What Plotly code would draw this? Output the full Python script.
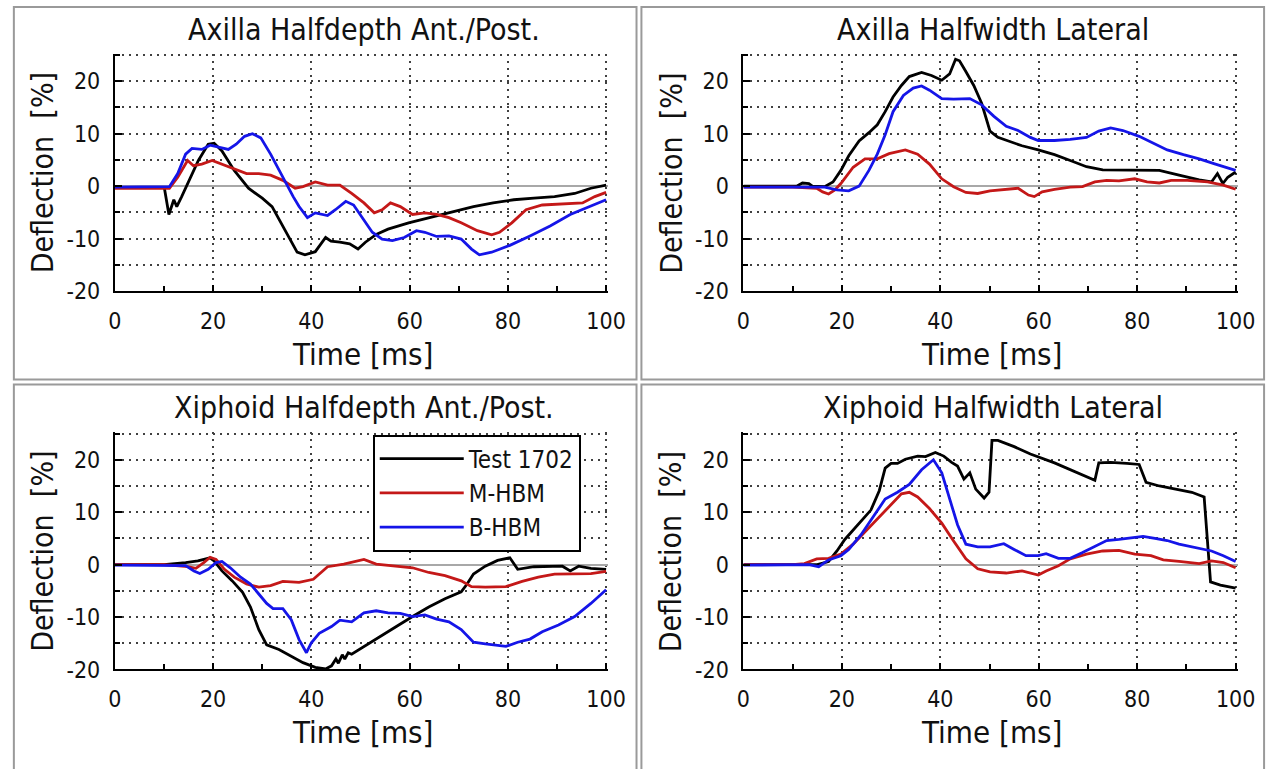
import plotly.graph_objects as go

W, H = 1286, 769

# ---------------- data (time in ms, deflection in %) ----------------
tl_black_t = [0, 5, 10, 10.1, 11, 12, 12.6, 13.6, 14.8, 17, 19, 20.2, 21.8, 24.3, 27.2, 30, 32, 34.2, 37.1, 38.7, 40.8, 42.9, 44, 45.8, 47.8, 49.5, 51, 53.2, 55.6, 59.8, 63.9, 68, 73, 77, 81.2, 85.3, 89.5, 93.6, 96.9, 100]
tl_black_v = [-0.3, -0.3, -0.3, -0.5, -5.4, -2.6, -3.9, -2, 0.5, 4.9, 8.0, 8.2, 6.7, 3, -0.4, -2.3, -3.9, -7.6, -12.6, -13.1, -12.5, -9.8, -10.5, -10.7, -11, -12, -10.7, -9.2, -8.2, -7, -6, -5.1, -3.9, -3.2, -2.6, -2.3, -2, -1.4, -0.4, 0.2]
tl_red_t = [0, 5, 11.1, 12.8, 14.8, 16, 17.7, 19.8, 21.8, 24.3, 26.8, 29.3, 31.7, 34.2, 36.7, 38.3, 40.8, 43.3, 45.8, 48.2, 50.7, 52.8, 54.4, 56.1, 58.1, 60.6, 63.1, 65.5, 68, 70.5, 73.8, 76.7, 78.3, 80.8, 83.7, 87, 91.9, 95.2, 97.7, 100]
tl_red_v = [-0.4, -0.4, -0.4, 1.7, 4.9, 3.9, 4.2, 4.9, 4.2, 3.3, 2.4, 2.4, 2.1, 1.1, -0.4, -0.1, 0.8, 0.2, 0.2, -1.4, -3.2, -5.1, -4.5, -3.2, -3.9, -5.4, -5.1, -5.4, -6, -7, -8.5, -9.3, -8.8, -7, -4.5, -3.6, -3.4, -3.2, -2, -1.2]
tl_blue_t = [0, 5, 11.1, 12.8, 14.4, 15.7, 17.7, 19.4, 21.4, 23.1, 24.7, 26.4, 28, 29.7, 31.7, 33.4, 35, 36.3, 37.5, 39.2, 40.8, 43.3, 44.9, 47, 48.6, 50.3, 52.4, 54.4, 56.5, 58.9, 61.4, 63.1, 65.5, 68, 70.5, 72.6, 74.2, 76.7, 80.4, 84.5, 88.6, 92.7, 96, 100]
tl_blue_v = [-0.2, -0.2, -0.1, 2.4, 6.1, 7.2, 7.0, 7.8, 7.4, 7.0, 8.0, 9.5, 10, 9.2, 6.1, 3, 0.2, -2, -3.9, -6, -5.1, -5.6, -4.5, -2.9, -3.6, -6, -8.8, -10.1, -10.4, -9.8, -8.5, -8.8, -9.6, -9.5, -10.1, -12, -13.1, -12.6, -11.3, -9.5, -7.6, -5.4, -4.2, -2.6]

tr_black_t = [0, 5, 10.8, 12, 13.3, 14, 16.5, 18.2, 19.8, 21.4, 23.5, 25.5, 27.2, 28.8, 30.4, 32.1, 33.7, 36.2, 38.2, 40.3, 41.9, 43.1, 43.9, 45.1, 46.8, 48.4, 50.1, 51.7, 54.2, 56.6, 59.9, 63.2, 66.4, 69.7, 73, 76.3, 80.4, 84.5, 88.5, 92.6, 95.1, 96.3, 97.4, 98.4, 100]
tr_black_v = [0, 0, 0, 0.6, 0.5, 0, -0.1, 0.8, 3, 5.8, 8.6, 10.2, 11.7, 14.2, 17, 19.2, 20.9, 21.7, 21.1, 20.2, 21.4, 24.2, 23.9, 22, 19.2, 15.8, 10.5, 9.3, 8.5, 7.7, 6.9, 6, 4.9, 3.7, 3.1, 3.1, 3.1, 3, 2.1, 1.2, 0.8, 2.4, 0.5, 1.7, 2.7]
tr_red_t = [0, 5, 10, 14.9, 16.1, 17.3, 18.6, 19.8, 22.3, 24.7, 27.2, 29.6, 32.9, 35.4, 37.8, 40.3, 42.7, 45.2, 47.6, 50.1, 53.4, 55.8, 57.9, 59.1, 60.7, 63.2, 66.4, 68.9, 71.4, 73.8, 76.3, 79.5, 82, 84.5, 86.9, 90.2, 94.3, 97.5, 100]
tr_red_v = [-0.2, -0.2, -0.2, -0.4, -1.1, -1.5, -0.7, 0.5, 3.6, 5.2, 5.2, 6.2, 6.9, 6.1, 4.2, 1.4, -0.1, -1.2, -1.4, -0.9, -0.6, -0.4, -1.7, -2, -1.1, -0.6, -0.2, -0.1, 0.8, 1.1, 1, 1.4, 0.8, 0.6, 1.1, 1.1, 0.8, 0.2, -0.6]
tr_blue_t = [0, 5, 10, 16.5, 19, 21.4, 23.5, 25.5, 27.2, 28.8, 30.4, 32.5, 34.5, 36.2, 37.8, 40.3, 42.7, 46, 48.4, 50.9, 53.4, 55.8, 58.3, 59.9, 63.2, 66.4, 69.7, 72.2, 74.6, 77.1, 80.4, 83.6, 86.1, 89.4, 92.6, 95.9, 100]
tr_blue_v = [-0.2, -0.2, -0.2, -0.2, -0.7, -0.9, 0, 3, 6.1, 9.8, 14.2, 17.3, 18.7, 19.1, 18.3, 16.7, 16.6, 16.7, 15.5, 13.3, 11.4, 10.6, 9.3, 8.7, 8.7, 8.9, 9.3, 10.5, 11.1, 10.6, 9.5, 8, 6.9, 6, 5.2, 4.2, 3]

bl_black_t = [0, 5, 10, 14.4, 16.9, 19.4, 20.2, 21.8, 23.9, 26, 27.6, 29.3, 30.9, 33.4, 35.9, 38.3, 40.8, 42.9, 44.1, 45, 45.5, 46.3, 46.8, 47.5, 48.2, 50.7, 54, 57.3, 60.6, 63.9, 67.2, 70.5, 71.7, 73, 75.4, 77.9, 80.4, 82, 85.3, 88.6, 91.1, 92.7, 94.4, 96.9, 100]
bl_black_v = [0, 0, 0, 0.4, 0.7, 1.3, 0.7, -1.2, -3.1, -5.3, -8.1, -12.4, -15.3, -16.2, -17.4, -18.7, -19.6, -19.9, -19.3, -18.0, -18.8, -17.2, -18.0, -16.8, -17.1, -15.6, -13.7, -11.8, -9.9, -8.1, -6.5, -5.2, -3.7, -1.8, -0.3, 0.8, 1.3, -0.9, -0.4, -0.4, -0.3, -1.2, -0.3, -0.7, -0.9]
bl_red_t = [0, 5, 10, 14.8, 16.5, 18.1, 19.4, 20.6, 22.3, 24.3, 26.8, 29.3, 31.7, 34.2, 37.5, 40.4, 43.3, 46.6, 49, 50.7, 53.2, 56.5, 60.6, 63.9, 67.2, 70.5, 72.6, 75.4, 79.6, 82.9, 86.2, 89.5, 93.6, 96.9, 100]
bl_red_v = [0, 0, 0, -0.4, -0.7, 0.4, 1.4, 1, -0.9, -2.4, -3.7, -4.3, -4, -3.2, -3.4, -2.8, -0.4, 0.1, 0.7, 1, 0.1, -0.2, -0.6, -1.5, -2.1, -3.1, -4.2, -4.3, -4.2, -3.2, -2.4, -1.8, -1.8, -1.7, -1.3]
bl_blue_t = [0, 5, 10, 14.4, 16.1, 17.3, 19, 20.6, 21.8, 23.5, 25.6, 27.6, 29.3, 30.9, 32.2, 34.2, 35.9, 37.5, 39, 40, 41.6, 44.1, 45.8, 48.2, 50.7, 53.2, 55.6, 58.1, 60.6, 63.1, 65.5, 68, 70.5, 73, 75.4, 77.9, 79.6, 82, 84.5, 87, 90.3, 93.6, 96.9, 100]
bl_blue_v = [-0.1, -0.1, -0.1, -0.2, -1.2, -1.7, -0.9, 0.4, 0.6, -0.6, -2.4, -3.7, -5.6, -7.4, -8.4, -8.4, -10.5, -14.3, -16.8, -14.9, -13.1, -11.8, -10.6, -10.9, -9.2, -8.8, -9.2, -9.3, -9.9, -9.6, -10.4, -10.9, -12.4, -14.8, -15.1, -15.4, -15.6, -14.8, -14.2, -12.8, -11.5, -9.9, -7.4, -4.8]

br_black_t = [0, 5, 10, 15, 17.3, 19, 20.6, 22.3, 23.9, 25.9, 27.6, 28.8, 30, 31.3, 32.9, 35.4, 37, 39, 40.7, 42.3, 43.5, 44.8, 46, 47.2, 48.9, 49.9, 50.5, 51.7, 55, 58.3, 63.2, 68.1, 71.4, 72.2, 74.6, 77.9, 80.4, 81.8, 84.5, 87.8, 91.1, 93.6, 94.3, 94.9, 96.9, 100]
br_black_v = [0, 0, 0, 0, 0.6, 2.6, 4.8, 6.6, 8.2, 10.4, 14.1, 18.4, 19.3, 19.3, 20.1, 20.7, 20.6, 21.4, 20.7, 19.5, 18.8, 16.3, 17.5, 14.4, 12.7, 13.8, 23.7, 23.7, 22.5, 21.1, 19.4, 17.5, 16.1, 19.4, 19.5, 19.3, 19.1, 15.7, 15, 14.4, 13.8, 12.9, 4.5, -3.3, -3.9, -4.5]
br_red_t = [0, 5, 10, 12.4, 14.9, 17.3, 19.8, 22.3, 24.7, 27.2, 29.6, 32.1, 33.7, 35.4, 37.8, 40.3, 42.7, 45.2, 47.6, 50.1, 53.4, 56.6, 59.9, 61.5, 64, 66.4, 69.7, 73, 76.3, 79.5, 82.8, 85.3, 88.5, 92.6, 95.1, 97.5, 100]
br_red_v = [0, 0, 0, 0.2, 1.1, 1.2, 2, 3.9, 6.3, 8.8, 11, 13.5, 13.8, 12.9, 10.7, 7.9, 4.5, 1.1, -0.8, -1.4, -1.6, -1.2, -2, -1.2, -0.2, 1.1, 2, 2.6, 2.7, 2, 1.7, 0.9, 0.6, 0.2, 0.7, 0.4, -0.6]
br_blue_t = [0, 5, 10, 13.3, 15.3, 17.3, 19.8, 21.4, 23.9, 26.4, 28.8, 31.3, 33.7, 36.2, 38.6, 40.3, 41.9, 43.5, 45.2, 47.6, 50.1, 52.9, 55, 57.4, 59.9, 61.5, 64, 66.4, 68.9, 71.4, 73.8, 76.3, 78.8, 81.2, 83.6, 86.1, 88.5, 91.8, 95.1, 97.5, 100]
br_blue_v = [-0.1, -0.1, -0.1, 0, -0.4, 0.9, 1.7, 2.9, 5.7, 9.1, 12.5, 13.8, 15.3, 18.1, 20, 17.5, 12.5, 7.6, 3.9, 3.4, 3.4, 4, 2.9, 1.7, 1.7, 2.1, 1.2, 1.2, 2.3, 3.4, 4.6, 4.8, 5.1, 5.4, 5, 4.6, 3.9, 3.2, 2.6, 1.7, 0.6]

panel_titles = ["Axilla Halfdepth Ant./Post.", "Axilla Halfwidth Lateral",
                "Xiphoid Halfdepth Ant./Post.", "Xiphoid Halfwidth Lateral"]
series_names = ["Test 1702", "M-HBM", "B-HBM"]
series_colors = ["#000000", "#c41818", "#1515e8"]
x_tick_vals = [0, 20, 40, 60, 80, 100]
x_tick_text = ["0", "20", "40", "60", "80", "100"]
y_tick_vals = [-20, -10, 0, 10, 20]
y_tick_text = ["-20", "-10", "0", "10", "20"]
x_title = "Time [ms]"
y_title = "Deflection  [%]"

panels = [
    [(tl_black_t, tl_black_v), (tl_red_t, tl_red_v), (tl_blue_t, tl_blue_v)],
    [(tr_black_t, tr_black_v), (tr_red_t, tr_red_v), (tr_blue_t, tr_blue_v)],
    [(bl_black_t, bl_black_v), (bl_red_t, bl_red_v), (bl_blue_t, bl_blue_v)],
    [(br_black_t, br_black_v), (br_red_t, br_red_v), (br_blue_t, br_blue_v)],
]

# ---------------- layout geometry (pixels) ----------------
FONT = "DejaVu Sans Condensed, DejaVu Sans, sans-serif"
TXT = "#111111"
plot_x = [(110, 611), (751, 1253), (110, 611), (751, 1253)]
plot_y = [(56, 296), (56, 296), (441, 681), (441, 681)]
frames = [(7, 7, 642, 386), (647, 7, 1282, 386), (7, 391, 642, 790), (647, 391, 1282, 790)]
X_MAX, Y_MAX = 100.4, 25.2   # tiny overshoot so the edge grid lines are drawn

def px(x):
    return x / W

def py(y):
    return 1 - y / H

fig = go.Figure()
layout = dict(width=W, height=H, margin=dict(l=0, r=0, t=0, b=0),
              paper_bgcolor="white", plot_bgcolor="white",
              font=dict(family=FONT, color=TXT),
              showlegend=True)

annotations = []
shapes = []
GRID = "#404040"
for i in range(4):
    k = "" if i == 0 else str(i + 1)
    xa, ya = "x" + k, "y" + k
    (x0, x1), (y0, y1) = plot_x[i], plot_y[i]
    xs = (x1 - x0) / 100.0
    ys = (y1 - y0) / 45.0
    layout["xaxis" + k] = dict(
        domain=[px(x0), px(x0 + xs * X_MAX)], range=[0, X_MAX], anchor=ya,
        tickvals=x_tick_vals, ticktext=x_tick_text,
        ticks="inside", ticklen=6, tickwidth=1.5, tickcolor="black",
        showline=True, linecolor="black", linewidth=2,
        showgrid=True, gridcolor=GRID, gridwidth=1.5, griddash="2px,5px",
        zeroline=False, tickfont=dict(size=23, family=FONT, color=TXT),
        ticklabelstandoff=8,
        minor=dict(dtick=10, ticks="inside", ticklen=5, tickwidth=1.5, tickcolor="black", showgrid=False),
        fixedrange=True)
    layout["yaxis" + k] = dict(
        domain=[py(y1), py(y1 - ys * (Y_MAX + 20))], range=[-20, Y_MAX], anchor=xa,
        tickvals=y_tick_vals, ticktext=y_tick_text,
        ticks="inside", ticklen=7, tickwidth=1.5, tickcolor="black",
        showline=True, linecolor="black", linewidth=2,
        showgrid=True, gridcolor=GRID, gridwidth=1.5, griddash="2px,5px",
        zeroline=True, zerolinecolor="#a8a8a8", zerolinewidth=1.5,
        tickfont=dict(size=23, family=FONT, color=TXT),
        ticklabelstandoff=8,
        minor=dict(dtick=5, ticks="inside", ticklen=5, tickwidth=1.5, tickcolor="black",
                   showgrid=True, gridcolor=GRID, gridwidth=1.5, griddash="2px,5px"),
        fixedrange=True)
    for j, (t, v) in enumerate(panels[i]):
        fig.add_trace(go.Scatter(x=t, y=v, mode="lines", name=series_names[j],
                                 line=dict(color=series_colors[j], width=2.8),
                                 xaxis=xa, yaxis=ya, showlegend=(i == 2),
                                 hoverinfo="skip"))
    cx = (x0 + x1) / 2
    annotations.append(dict(text=panel_titles[i], x=px(cx + 4), y=py(y0 - 26), xref="paper", yref="paper",
                            xanchor="center", yanchor="middle", showarrow=False,
                            font=dict(size=30, family=FONT, color=TXT)))
    annotations.append(dict(text=x_title, x=px(cx + 2), y=py(y1 + 64), xref="paper", yref="paper",
                            xanchor="center", yanchor="middle", showarrow=False,
                            font=dict(size=31, family=FONT, color=TXT)))
    annotations.append(dict(text=y_title, x=px(x0 - 74), y=py((y0 + y1) / 2), xref="paper", yref="paper",
                            xanchor="center", yanchor="middle", showarrow=False, textangle=-90,
                            font=dict(size=30, family=FONT, color=TXT)))
    fx0, fy0, fx1, fy1 = frames[i]
    shapes.append(dict(type="rect", xref="paper", yref="paper", x0=px(fx0), x1=px(fx1),
                       y0=py(fy1), y1=py(fy0), line=dict(color="#9a9a9a", width=2), layer="below"))

layout["annotations"] = annotations
layout["shapes"] = shapes
layout["legend"] = dict(x=px(373), y=py(442), xanchor="left", yanchor="top",
                        bgcolor="white", bordercolor="black", borderwidth=2,
                        font=dict(size=24, family=FONT, color=TXT),
                        itemwidth=84, tracegroupgap=4)
fig.update_layout(**layout)
fig.write_html("out.html")
